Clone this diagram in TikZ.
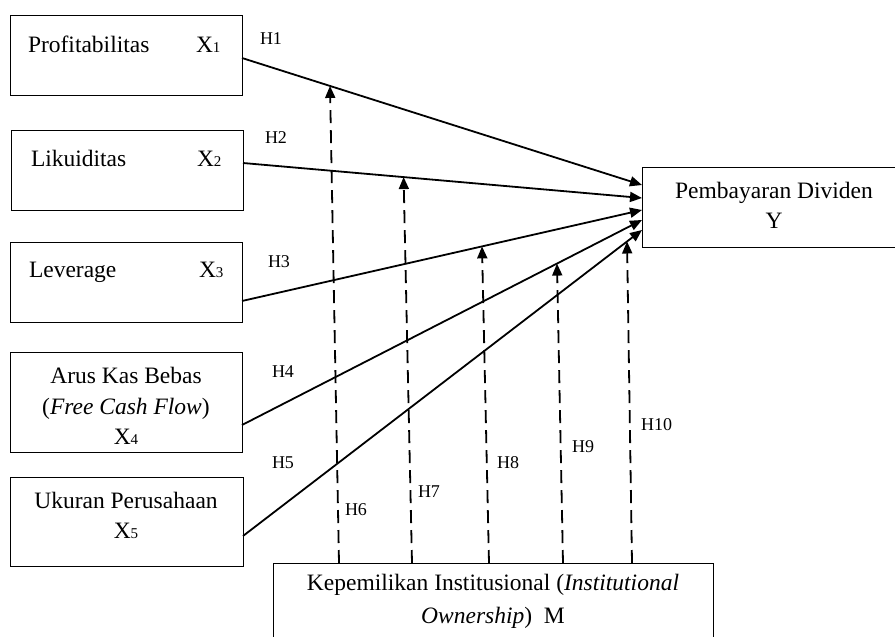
\documentclass[tikz,border=0pt]{standalone}
\usepackage{fontspec}
\setmainfont{Liberation Serif}
\usetikzlibrary{arrows.meta,calc}
\newcommand\smalldig[1]{{\fontsize{15}{15}\selectfont #1}}
\begin{document}
\begin{tikzpicture}[x=1pt,y=-1pt,
  box/.style={draw=black,line width=0.9pt,inner sep=0pt,outer sep=0pt},
  lbl/.style={inner sep=0pt,outer sep=0pt,font=\fontsize{23.5}{28}\selectfont},
  hlbl/.style={inner sep=0pt,outer sep=0pt,anchor=base west,font=\fontsize{18}{20}\selectfont},
  arr/.style={line width=1.8pt,-{Triangle[length=12pt,width=10pt]}},
  darr/.style={line width=1.8pt,dash pattern=on 13pt off 7pt,-{Triangle[length=12pt,width=10pt]}}]
\useasboundingbox (0,0) rectangle (895,637);
\clip (0,0) rectangle (895,637);
% boxes
\node[box,minimum width=232pt,minimum height=80pt] (x1) at (126,55) {};
\node[box,minimum width=232pt,minimum height=80pt] (x2) at (127,170) {};
\node[box,minimum width=232pt,minimum height=80pt] (x3) at (126,282) {};
\node[box,minimum width=232pt,minimum height=100pt] (x4) at (126,402) {};
\node[box,minimum width=233pt,minimum height=89pt] (x5) at (126.5,521.5) {};
\node[box,minimum width=260pt,minimum height=80pt] (y) at (772,207) {};
\node[box,minimum width=440pt,minimum height=100pt] (m) at (493,613) {};
% box texts
\node[lbl,anchor=base west] (t1) at (28,52) {Profitabilitas};
\node[lbl,anchor=base west] (s1) at (196,52) {X\smalldig{1}};
\node[lbl,anchor=base west] (t2) at (31,166) {Likuiditas};
\node[lbl,anchor=base west] (s2) at (197,166) {X\smalldig{2}};
\node[lbl,anchor=base west] (t3) at (29,277) {Leverage};
\node[lbl,anchor=base west] (s3) at (199,277) {X\smalldig{3}};
\node[lbl,anchor=base] (t4a) at (126,383) {Arus Kas Bebas};
\node[lbl,anchor=base] (t4b) at (126,414) {(\textit{Free Cash Flow})};
\node[lbl,anchor=base] (s4) at (126,444) {X\smalldig{4}};
\node[lbl,anchor=base] (t5a) at (126,508) {Ukuran Perusahaan};
\node[lbl,anchor=base] (s5) at (126,538) {X\smalldig{5}};
\node[lbl,anchor=base] (ty1) at (774,198) {Pembayaran Dividen};
\node[lbl,anchor=base] (ty2) at (774,228) {Y};
\node[lbl,anchor=base] (tm1) at (493,590) {Kepemilikan Institusional (\textit{Institutional}};
\node[lbl,anchor=base] (tm2) at (493,623) {\textit{Ownership})\ \ M};
% solid arrows
\draw[arr] ([yshift=-3pt]x1.east) -- ([yshift=22pt]y.west) coordinate[pos=0.22] (p1);
\draw[arr] ([yshift=7pt]x2.east) -- ([yshift=9pt]y.west) coordinate[pos=0.4025] (p2);
\draw[arr] ([yshift=-19pt]x3.east) -- ([yshift=-3pt]y.west) coordinate[pos=0.6] (p3);
\draw[arr] ([yshift=-23pt]x4.east) -- ([yshift=-13pt]y.west) coordinate[pos=0.7875] (p4);
\draw[arr] ([yshift=-14.5pt]x5.east) -- ([yshift=-23pt]y.west) coordinate[pos=0.9625] (p5);
% dashed arrows
\draw[darr] ([xshift=-154pt]m.north) -- (p1);
\draw[darr] ([xshift=-81pt]m.north) -- (p2);
\draw[darr] ([xshift=-4pt]m.north) -- (p3);
\draw[darr] ([xshift=70pt]m.north) -- (p4);
\draw[darr] ([xshift=139pt]m.north) -- (p5);
% hypothesis labels
\node[hlbl] (h1) at (260,45) {H1};
\node[hlbl] (h2) at (265,143) {H2};
\node[hlbl] (h3) at (268,267) {H3};
\node[hlbl] (h4) at (272,377) {H4};
\node[hlbl] (h5) at (272,468) {H5};
\node[hlbl] (h6) at (345,515) {H6};
\node[hlbl] (h7) at (418,497) {H7};
\node[hlbl] (h8) at (497,468) {H8};
\node[hlbl] (h9) at (572,452) {H9};
\node[hlbl] (h10) at (641,430) {H10};
\end{tikzpicture}
\end{document}
